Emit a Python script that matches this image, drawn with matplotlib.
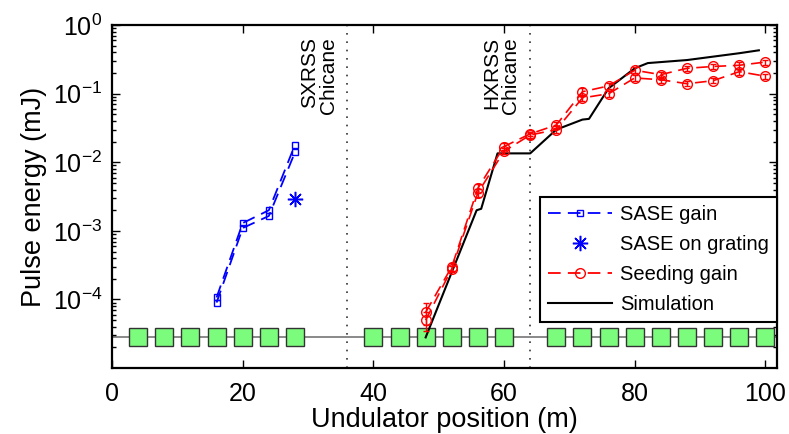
import matplotlib
matplotlib.use("Agg")
import matplotlib.pyplot as plt
from matplotlib.lines import Line2D

plt.rcParams["font.family"] = ["Liberation Sans", "DejaVu Sans"]
plt.rcParams["mathtext.fontset"] = "custom"
plt.rcParams["mathtext.rm"] = "Liberation Sans"
plt.rcParams["mathtext.it"] = "Liberation Sans:italic"
plt.rcParams["mathtext.default"] = "regular"

# undulator module positions (green squares) and their drawn level
undulator_z = [4, 8, 12, 16, 20, 24, 28, 40, 44, 48, 52, 56, 60,
               68, 72, 76, 80, 84, 88, 92, 96, 100]
undulator_level = 2.8e-5

# SASE gain, two shots
sase_z = [16, 20, 24, 28]
sase_a = [1.07e-4, 1.3e-3, 2.0e-3, 1.8e-2]
sase_b = [9.0e-5, 1.1e-3, 1.65e-3, 1.4e-2]

# SASE measured on grating
grating_z = [28]
grating_e = [2.9e-3]

# seeding gain, two shots
seed_z = [48, 52, 56, 60, 64, 68, 72, 76, 80, 84, 88, 92, 96, 100]
seed_a = [6.5e-5, 3.0e-4, 4.2e-3, 1.7e-2, 2.6e-2, 3.5e-2, 0.107, 0.13,
          0.22, 0.19, 0.235, 0.25, 0.26, 0.29]
seed_b = [5.0e-5, 2.8e-4, 3.6e-3, 1.45e-2, 2.5e-2, 3.0e-2, 0.087, 0.10,
          0.17, 0.16, 0.14, 0.155, 0.21, 0.18]
seed_err_a = [0.35, 0.12, 0.15, 0.12, 0.08, 0.1, 0.12, 0.1,
              0.1, 0.1, 0.08, 0.08, 0.12, 0.08]
seed_err_b = [0.3, 0.1, 0.12, 0.1, 0.08, 0.12, 0.1, 0.1,
              0.1, 0.1, 0.08, 0.08, 0.1, 0.08]

# simulation curve
sim_z = [48, 52, 55.8, 56.5, 59, 64, 68, 72, 73, 76, 80, 82, 88, 96, 99]
sim_e = [2.8e-5, 2.5e-4, 2.0e-3, 2.1e-3, 1.35e-2, 1.35e-2, 3.0e-2, 4.2e-2,
         4.3e-2, 0.12, 0.235, 0.28, 0.31, 0.39, 0.43]

chicane_z = [36, 64]

BLUE = "#0000ff"
RED = "#ff0000"
ASTERISK = (8, 2, 0)

fig = plt.figure(figsize=(7.89, 4.34), dpi=100)
ax = fig.add_axes([0.142, 0.152, 0.843, 0.790])

ax.axhline(undulator_level, color="#808080", lw=1.3, zorder=1)
ax.plot(undulator_z, [undulator_level] * len(undulator_z), linestyle="none",
        marker="s", markersize=12.5, markerfacecolor="#7cfc7c",
        markeredgecolor="#333333", markeredgewidth=1.0, zorder=2)

for z in chicane_z:
    ax.axvline(z, color="#333333", lw=1.2, linestyle=(0, (1, 4)), zorder=1)

ax.plot(sim_z, sim_e, color="black", lw=1.5, zorder=4)

for vals in (sase_a, sase_b):
    ax.plot(sase_z, vals, color=BLUE, lw=1.3, dashes=(7, 4), marker="s",
            markersize=5, markerfacecolor="none", markeredgecolor=BLUE,
            markeredgewidth=1.0, zorder=5)
ax.plot(grating_z, grating_e, linestyle="none", marker=ASTERISK, markersize=11,
        color=BLUE, markeredgewidth=1.1, zorder=5)

for vals, errs in ((seed_a, seed_err_a), (seed_b, seed_err_b)):
    yerr = [[v * e for v, e in zip(vals, errs)], [v * e for v, e in zip(vals, errs)]]
    ax.errorbar(seed_z, vals, yerr=yerr, color=RED, lw=1.2, dashes=(7, 4),
                marker="o", markersize=7, markerfacecolor="none",
                markeredgecolor=RED, markeredgewidth=1.0, ecolor=RED,
                elinewidth=1.0, capsize=2.5, zorder=5)

ax.set_yscale("log")
ax.set_xlim(0, 101.8)
ax.set_ylim(1e-5, 1)
ax.set_xticks([0, 20, 40, 60, 80, 100])
ax.set_yticks([1e-4, 1e-3, 1e-2, 1e-1, 1e0])
ax.tick_params(which="both", direction="in", top=True, right=True,
               labelsize=18, width=1.0)
ax.tick_params(which="major", length=6, pad=7)
ax.tick_params(axis="x", which="major", pad=10)
ax.tick_params(which="minor", length=3)
ax.tick_params(axis="x", which="minor", bottom=False, top=False)
for s in ax.spines.values():
    s.set_linewidth(1.6)

ax.set_xlabel("Undulator position (m)", fontsize=19.5, labelpad=1)
ax.set_ylabel("Pulse energy (mJ)", fontsize=19.5, labelpad=4)

ax.text(34.6, 0.965, "SXRSS\nChicane", transform=ax.get_xaxis_transform(),
        rotation=90, ha="right", va="top", multialignment="right",
        fontsize=15, linespacing=1.0)
ax.text(62.5, 0.965, "HXRSS\nChicane", transform=ax.get_xaxis_transform(),
        rotation=90, ha="right", va="top", multialignment="right",
        fontsize=15, linespacing=1.0)

handles = [
    Line2D([], [], color=BLUE, lw=1.3, dashes=(7, 4), marker="s", markersize=5,
           markerfacecolor="none", markeredgecolor=BLUE),
    Line2D([], [], color=BLUE, linestyle="none", marker=ASTERISK, markersize=11,
           markeredgewidth=1.1),
    Line2D([], [], color=RED, lw=1.3, dashes=(7, 4), marker="o", markersize=7,
           markerfacecolor="none", markeredgecolor=RED),
    Line2D([], [], color="black", lw=1.5),
]
labels = ["SASE gain", "SASE on grating", "Seeding gain", "Simulation"]
leg = ax.legend(handles, labels, loc="upper right", bbox_to_anchor=(1.0, 0.5),
                borderaxespad=0, fontsize=14.5, handlelength=3.2,
                handletextpad=0.4, labelspacing=0.55, borderpad=0.4,
                fancybox=False, framealpha=1, edgecolor="black")
leg.get_frame().set_linewidth(1.5)

fig.savefig("out.png", dpi=100)
